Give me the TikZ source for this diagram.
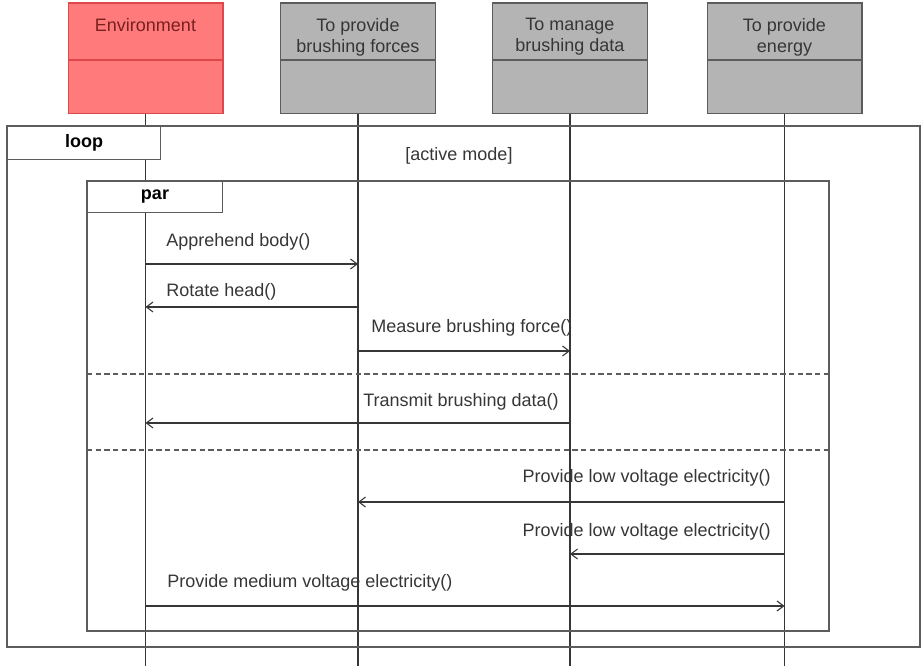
\documentclass[tikz,border=0pt]{standalone}
\usepackage{fontspec}
\setmainfont{Liberation Sans}
\usetikzlibrary{arrows.meta,positioning}
\usepackage{xcolor}
\definecolor{envred}{HTML}{FF7B7B}
\definecolor{envedge}{HTML}{E0474A}
\definecolor{envtext}{HTML}{7A1F1F}
\definecolor{boxgray}{HTML}{B4B4B4}
\definecolor{black90}{HTML}{363636}
\definecolor{black70}{HTML}{5C5C5C}

\begin{document}
\begin{tikzpicture}[x=0.75pt, y=-0.75pt,
    actor/.style={draw=black70, fill=boxgray, line width=1pt, minimum width=116pt, minimum height=83pt, inner sep=0pt},
    headtxt/.style={anchor=north, inner sep=0pt, align=center, font=\fontsize{13.5}{16}\selectfont, color=black90},
    life/.style={draw=black90, line width=0.8pt},
    msg/.style={-{Straight Barb[length=5pt,width=7.5pt]}, draw=black90, line width=0.8pt},
    frame/.style={draw=black70, line width=1pt},
    tag/.style={draw=black70, fill=white, line width=1pt, anchor=north west, inner sep=0pt, font=\fontsize{13.5}{16}\selectfont\bfseries},
    note/.style={inner sep=0pt, font=\fontsize{13.5}{16}\selectfont, color=black90},
]
\useasboundingbox (0,0) rectangle (922,666);

% lifeline heads
\node[actor, fill=envred, draw=envedge] (env) at (145.5,58.5) {};
\node[actor] (force) at (358,58.5) {};
\node[actor] (data) at (570,58.5) {};
\node[actor] (energy) at (784.5,58.5) {};

\draw[envedge, line width=0.8pt] (env.west |- 0,60) -- (env.east |- 0,60);
\foreach \n in {force, data, energy} {
    \draw[black70, line width=0.8pt] (\n.west |- 0,60) -- (\n.east |- 0,60);
}

\node[headtxt, color=envtext] at (env.north |- 0,18) {Environment};
\node[headtxt] at (force.north |- 0,18) {To provide\\brushing forces};
\node[headtxt] at (data.north |- 0,18) {To manage\\brushing data};
\node[headtxt] at (energy.north |- 0,18) {To provide\\energy};

% lifelines
\foreach \n in {env, force, data, energy} {
    \draw[life] (\n.south) -- (\n.south |- 0,666);
}

% combined fragments
\draw[frame] (7,126) rectangle (920,647);
\node[tag, minimum width=114.75pt, minimum height=24.75pt] (looptag) at (7,126) {loop};
\node[note] (guard) at (459,156) {[active mode]};

\draw[frame] (87,181) rectangle (829,631);
\node[tag, minimum width=101pt, minimum height=23pt] (partag) at (87,181) {par};

\draw[frame, dashed, dash pattern=on 4pt off 2.5pt] (87,374) -- (829,374);
\draw[frame, dashed, dash pattern=on 4pt off 2.5pt] (87,450) -- (829,450);

% messages
\foreach \y/\a/\b in {264/env/force, 307/force/env, 351/force/data, 423/data/env,
                      502/energy/force, 554/energy/data, 606/env/energy} {
    \draw[msg] (\a.south |- 0,\y) -- (\b.south |- 0,\y);
}

\node[note, anchor=west] (m1) at (166,242) {Apprehend body()};
\node[note, anchor=west] (m2) at (166,292) {Rotate head()};
\node[note, anchor=west] (m3) at (371,328) {Measure brushing force()};
\node[note, anchor=west] (m4) at (363,402) {Transmit brushing data()};
\node[note, anchor=east] (m5) at (771,478) {Provide low voltage electricity()};
\node[note, anchor=east] (m6) at (771,532) {Provide low voltage electricity()};
\node[note, anchor=west] (m7) at (167,583) {Provide medium voltage electricity()};

\end{tikzpicture}
\end{document}
